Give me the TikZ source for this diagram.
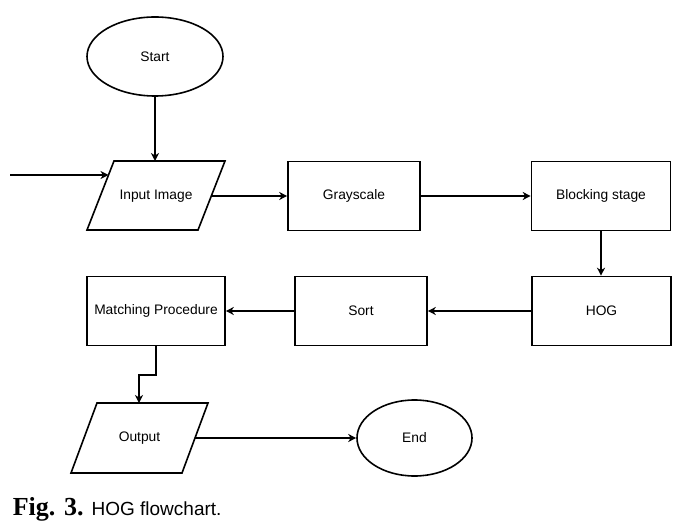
\documentclass[tikz,border=0pt]{standalone}
\usepackage{fontspec}
\setmainfont{Liberation Sans}
\newfontfamily\capserif{Liberation Serif}
\usetikzlibrary{arrows.meta,shapes.geometric}
\begin{document}
\begin{tikzpicture}[x=1pt,y=-1pt,
  line width=1.6pt,
  every node/.style={font=\fontsize{13.8}{16}\selectfont},
  boxnode/.style={draw,rectangle,minimum height=69pt,inner sep=0pt},
  ovalnode/.style={draw,ellipse,inner sep=0pt},
  lbl/.style={inner sep=0pt},
  arr/.style={-{Stealth[length=8pt,width=8pt,inset=2.5pt]}}]
\useasboundingbox (0,0) rectangle (691,529);
\fill[white] (0,0) rectangle (691,529);
% ellipses
\node[ovalnode,minimum width=136pt,minimum height=79pt] (start) at (155,56.5) {Start};
\node[ovalnode,minimum width=115pt,minimum height=76pt] (end) at (414.5,438) {End};
% boxes
\node[boxnode,minimum width=132pt] (gray) at (354,196) {Grayscale};
\node[boxnode,minimum width=139pt] (block) at (601,196) {Blocking stage};
\node[boxnode,minimum width=139pt] (hog) at (601.5,311) {HOG};
\node[boxnode,minimum width=132pt] (sort) at (361,311) {Sort};
\node[boxnode,minimum width=138pt] (match) at (156,311) {Matching Procedure};
% parallelograms
\coordinate (inTL) at (114,161); \coordinate (inTR) at (225,161);
\coordinate (inBR) at (198,230); \coordinate (inBL) at (87,230);
\draw (inTL) -- (inTR) -- (inBR) -- (inBL) -- cycle;
\node[lbl] (input) at (156,196) {Input Image};
\coordinate (inTop) at (155,161);
\coordinate (inLeft) at (108.5,175);
\coordinate (inRight) at (211.5,196);
\coordinate (outTL) at (97,403); \coordinate (outTR) at (208,403);
\coordinate (outBR) at (182,473); \coordinate (outBL) at (71,473);
\draw (outTL) -- (outTR) -- (outBR) -- (outBL) -- cycle;
\node[lbl] (output) at (139.5,438) {Output};
\coordinate (outTop) at (139,403);
\coordinate (outRight) at (195,438);
\coordinate (feed) at (10,175);
% connectors
\draw[arr] (start.south) -- (inTop);
\draw[arr] (feed) -- (inLeft);
\draw[arr] (inRight) -- (gray.west);
\draw[arr] (gray.east) -- (block.west);
\draw[arr] (block.south) -- (block.south |- hog.north);
\draw[arr] (hog.west) -- (sort.east);
\draw[arr] (sort.west) -- (match.east);
\draw[arr] (match.south) -- ++(0,29) -| (outTop);
\draw[arr] (outRight) -- (end.west);
% caption
\node[anchor=base west,inner sep=0pt,font=\fontsize{19}{21}\selectfont] (cap) at (12,515)
  {{\capserif\bfseries\fontsize{26}{27}\selectfont Fig. 3.}\hspace{1pt} HOG flowchart.};
\end{tikzpicture}
\end{document}
